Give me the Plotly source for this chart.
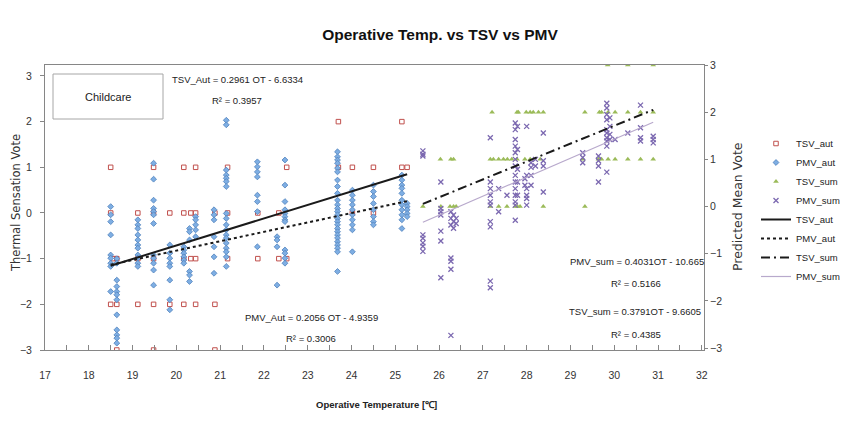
import plotly.graph_objects as go

# ---------------- data ----------------
tsv_aut_x = [23.70, 25.15,
             18.50, 19.48, 20.17, 20.44, 21.17, 22.52, 23.70, 24.02, 24.50, 25.15, 25.27,
             18.50, 19.12, 19.48, 19.85, 20.17, 20.33, 20.44, 20.88, 21.17, 21.86, 22.34, 24.02, 24.50,
             18.57, 18.64, 19.12, 19.48, 20.17, 20.33, 20.44, 21.17, 21.86, 22.34, 22.52,
             18.50, 18.64, 19.12, 19.48, 19.85, 20.17, 20.44, 20.88,
             18.64, 19.48, 20.88]
tsv_aut_y = [2, 2,
             1, 1, 1, 1, 1, 1, 1, 1, 1, 1, 1,
             0, 0, 0, 0, 0, 0, 0, 0, 0, 0, 0, 0, 0,
             -1, -1, -1, -1, -1, -1, -1, -1, -1, -1, -1,
             -2, -2, -2, -2, -2, -2, -2, -2,
             -3, -3, -3]

pmv_aut_x = ([18.50] * 9 + [18.64] * 12 + [19.12] * 11 + [19.48] * 12 + [19.85] * 8 +
             [20.17] * 6 + [20.30] * 6 + [20.44] * 5 + [20.86] * 7 + [21.14] * 18 +
             [21.85] * 8 + [22.30] * 4 + [22.48] * 12 + [23.68] * 26 + [24.02] * 10 +
             [24.50] * 8 + [25.15] * 11 + [25.27] * 5)
pmv_aut_y = [0.14, -0.04, -0.19, -0.48, -0.92, -0.99, -1.10, -1.17, -1.72,
             -1.00, -1.10, -1.47, -1.61, -1.72, -1.79, -1.90, -2.23, -2.56, -2.67, -2.74, -2.85,
             -0.15, -0.26, -0.34, -0.48, -0.59, -0.70, -0.77, -0.92, -0.99, -1.10, -1.17,
             1.09, 0.74, 0.28, 0.10, 0.03, -0.04, -0.23, -0.92, -0.99, -1.10, -1.25, -1.58,
             -0.70, -0.88, -0.99, -1.10, -1.17, -1.47, -1.90, -2.12,
             -0.74, -0.81, -0.88, -0.96, -1.03, -1.10,
             -0.34, -0.41, -0.59, -1.28, -1.36, -1.50,
             -0.08, -0.15, -0.26, -0.37, -0.52,
             0.07, -0.04, -0.15, -0.52, -0.74, -0.96, -1.32,
             2.03, 1.93, 0.94, 0.83, 0.76, 0.69, 0.58, -0.01, -0.12, -0.26, -0.37, -0.48, -0.55,
             -0.66, -0.77, -0.85, -0.96, -1.17,
             1.12, 1.01, 0.90, 0.79, 0.39, 0.25, 0.03, -0.74,
             -0.52, -0.59, -0.74, -1.58,
             1.16, 0.61, 0.25, 0.07, -0.01, -0.08, -0.15, -0.19, -0.81, -0.88, -0.99, -1.10,
             1.34, 1.23, 1.16, 1.09, 0.98, 0.90, 0.72, 0.58, 0.43, 0.28, 0.18, 0.10, 0.03,
             -0.04, -0.12, -0.19, -0.26, -0.34, -0.41, -0.48, -0.55, -0.63, -0.70, -0.77, -0.85, -1.28,
             0.50, 0.39, 0.28, 0.18, 0.07, -0.04, -0.15, -0.26, -0.37, -0.85,
             0.61, 0.47, 0.36, 0.21, 0.07, -0.08, -0.19, -0.26,
             0.83, 0.72, 0.61, 0.54, 0.43, 0.28, 0.18, 0.07, -0.04, -0.15, -0.34,
             0.21, 0.14, 0.07, -0.01, -0.08]

tsv_sum_x = [29.85, 30.31, 30.89,
             27.21, 27.78, 27.81, 27.99, 28.08, 28.15, 28.27, 28.38, 29.33, 29.66, 29.71, 29.86,
             30.02, 30.31, 30.60, 30.89,
             26.03, 26.27, 26.33, 27.17, 27.24, 27.36, 27.47, 27.56, 27.66, 27.78, 27.96, 28.08,
             28.31, 29.28, 29.64, 29.71, 29.86, 30.02, 30.31, 30.60, 30.89,
             25.63, 26.04, 26.25, 26.33, 26.39, 27.17, 27.36, 27.55, 27.74, 27.79, 27.85, 28.38, 29.33]
tsv_sum_y = [3] * 3 + [2] * 16 + [1] * 21 + [0] * 13

pmv_sum_x = ([25.63] * 8 + [26.04] * 7 + [26.27] * 7 + [26.33] * 3 + [26.39] * 2 +
             [27.17] * 10 + [27.36] * 2 + [27.55] * 1 + [27.74] * 14 + [27.79] * 5 +
             [28.00] * 6 + [27.96] * 2 + [28.10] * 4 + [28.20] * 2 + [28.38] * 4 +
             [29.28] * 3 + [29.64] * 4 + [29.83] * 10 + [29.90] * 4 + [30.02] * 1 +
             [30.31] * 1 + [30.60] * 4 + [30.89] * 3)
pmv_sum_y = [1.18, 1.11, 1.07, -0.60, -0.67, -0.77, -0.84, -0.95,
             0.52, -0.04, -0.11, -0.18, -0.52, -0.73, -1.51,
             -0.11, -0.25, -0.39, -1.09, -1.16, -1.33, -2.73,
             -0.18, -0.32, -0.46,
             -0.25, -0.36,
             1.46, 0.52, 0.38, 0.24, 0.10, 0.03, -0.32, -0.43, -1.58, -1.72,
             0.38, -0.11,
             0.24,
             1.77, 1.63, 1.42, 1.28, 1.14, 1.00, 0.86, 0.66, 0.52, 0.38, 0.24, 0.10, 0.03, -0.29,
             1.70, 1.21, 0.79, 0.52, 0.24,
             1.70, 0.66, 0.38, 0.24, 0.17, 0.03,
             0.59, 0.45,
             0.93, 0.83, 0.66, 0.45,
             1.00, 0.86,
             1.56, 0.97, 0.86, 0.31,
             1.14, 1.04, 0.93,
             1.07, 0.97, 0.86, 0.52,
             2.19, 2.09, 1.95, 1.84, 1.63, 1.56, 1.46, 1.39, 1.28, 0.73,
             1.88, 1.70, 1.53, 1.42,
             1.42,
             1.56,
             2.15, 1.67, 1.46, 1.39,
             1.49, 1.42, 1.35]

# trend line coefficients (slope, intercept, R^2)
tsv_aut_fit = [0.2961, -6.6334, 0.3957]
pmv_aut_fit = [0.2056, -4.9359, 0.3006]
tsv_sum_fit = [0.3791, -9.6605, 0.4385]
pmv_sum_fit = [0.4031, -10.665, 0.5166]

x_ticks = list(range(17, 33))
y_ticks = [-3, -2, -1, 0, 1, 2, 3]

# ---------------- figure ----------------
FONT = "Liberation Sans, Arial, sans-serif"
AXC = "#868686"
OFF = 8  # page body margin of the html output

# plot area in page pixels
PL, PR, PT, PB = 45, 704, 65, 350
PW, PH = PR - PL, PB - PT


def px(x):
    return (x - PL) / PW


def py(y):
    return (PB - y) / PH


def fit_line(xs, fit):
    x0, x1 = min(xs), max(xs)
    return [x0, x1], [fit[0] * x0 + fit[1], fit[0] * x1 + fit[1]]


fig = go.Figure()
fig.add_trace(go.Scatter(x=tsv_aut_x, y=tsv_aut_y, mode="markers", name="TSV_aut",
                         legendgroup="a",
                         marker=dict(symbol="square-open", size=4.5, color="#c0504d",
                                     line=dict(width=1, color="#c0504d"))))
fig.add_trace(go.Scatter(x=pmv_aut_x, y=pmv_aut_y, mode="markers", name="PMV_aut",
                         legendgroup="b",
                         marker=dict(symbol="diamond", size=4.5, color="#7eaee3",
                                     line=dict(width=0.8, color="#4f81bd"))))
fig.add_trace(go.Scatter(x=tsv_sum_x, y=tsv_sum_y, mode="markers", name="TSV_sum",
                         legendgroup="c", yaxis="y2",
                         marker=dict(symbol="triangle-up", size=5, color="#9bbb59",
                                     line=dict(width=0))))
fig.add_trace(go.Scatter(x=pmv_sum_x, y=pmv_sum_y, mode="markers", name="PMV_sum",
                         legendgroup="d", yaxis="y2",
                         marker=dict(symbol="x-thin", size=5, color="#7b68b0",
                                     line=dict(width=1.3, color="#7b68b0"))))

lx, ly = fit_line(tsv_aut_x, tsv_aut_fit)
fig.add_trace(go.Scatter(x=lx, y=ly, mode="lines", name="TSV_aut", legendgroup="e",
                         line=dict(color="#1a1a1a", width=2)))
lx, ly = fit_line(pmv_aut_x, pmv_aut_fit)
fig.add_trace(go.Scatter(x=lx, y=ly, mode="lines", name="PMV_aut", legendgroup="f",
                         line=dict(color="#1a1a1a", width=2, dash="3px,3px")))
lx, ly = fit_line(tsv_sum_x, tsv_sum_fit)
fig.add_trace(go.Scatter(x=lx, y=ly, mode="lines", name="TSV_sum", legendgroup="g",
                         yaxis="y2",
                         line=dict(color="#1a1a1a", width=2, dash="9px,4px,2px,4px")))
lx, ly = fit_line(pmv_sum_x, pmv_sum_fit)
fig.add_trace(go.Scatter(x=lx, y=ly, mode="lines", name="PMV_sum", legendgroup="h",
                         yaxis="y2",
                         line=dict(color="#b8a9cc", width=1.2)))

ann_font = dict(family=FONT, size=9.5, color="#222222")

annotations = [
    dict(text="TSV_Aut = %.4f OT - %.4f" % (tsv_aut_fit[0], -tsv_aut_fit[1]),
         x=px(237), y=py(79)),
    dict(text="R\u00b2 = %.4f" % tsv_aut_fit[2], x=px(237), y=py(101)),
    dict(text="PMV_Aut = %.4f OT - %.4f" % (pmv_aut_fit[0], -pmv_aut_fit[1]),
         x=px(311), y=py(317)),
    dict(text="R\u00b2 = %.4f" % pmv_aut_fit[2], x=px(311), y=py(338)),
    dict(text="PMV_sum = %.4fOT - %.3f" % (pmv_sum_fit[0], -pmv_sum_fit[1]),
         x=px(637), y=py(262)),
    dict(text="R\u00b2 = %.4f" % pmv_sum_fit[2], x=px(636), y=py(283)),
    dict(text="TSV_sum = %.4fOT - %.4f" % (tsv_sum_fit[0], -tsv_sum_fit[1]),
         x=px(635), y=py(311)),
    dict(text="R\u00b2 = %.4f" % tsv_sum_fit[2], x=px(636), y=py(334)),
    dict(text="Childcare", x=px(108), y=py(97),
         font=dict(family=FONT, size=11, color="#222222")),
    dict(text="Thermal Sensation Vote", x=px(16), y=py(203), textangle=-90,
         font=dict(family="DejaVu Sans", size=11.5, color="#333333")),
    dict(text="Predicted Mean Vote", x=px(737), y=py(207), textangle=-90,
         font=dict(family="DejaVu Sans", size=12.5, color="#333333")),
    dict(text="<b>Operative Temperature [\u2103]</b>", x=px(376), y=py(404),
         font=dict(family=FONT, size=9.5, color="#222222")),
]
for a in annotations:
    a.setdefault("font", ann_font)
    a.update(xref="paper", yref="paper", showarrow=False,
             xanchor="center", yanchor="middle")

# figure sized to fit inside the page's 8px body margin without scrollbars
W, H = 853 - 2 * OFF, 426 - 2 * OFF
fig.update_layout(
    width=W, height=H,
    margin=dict(l=PL - OFF, r=W - (PR - OFF), t=PT - OFF, b=H - (PB - OFF), pad=0,
                autoexpand=False),
    paper_bgcolor="white", plot_bgcolor="white",
    title=dict(text="<b>Operative Temp. vs TSV vs PMV</b>", x=(440 - OFF) / W,
               xanchor="center", y=1 - (35 - OFF) / H, yanchor="middle",
               font=dict(family=FONT, size=15.5, color="#111111")),
    font=dict(family=FONT, size=10, color="#333333"),
    showlegend=True,
    legend=dict(x=px(756), xanchor="left", y=py(129), yanchor="top",
                traceorder="grouped", tracegroupgap=0,
                font=dict(family=FONT, size=9.5, color="#222222"),
                bgcolor="rgba(0,0,0,0)", itemwidth=30),
    xaxis=dict(range=[17, 32.05], tickvals=x_ticks, ticks="inside", ticklen=5,
               tickcolor=AXC, showline=True, linecolor=AXC, linewidth=1, mirror=True,
               showgrid=False, zeroline=False, ticklabelstandoff=15, automargin=False,
               minor=dict(dtick=0.5, ticks="inside", ticklen=5, tickcolor=AXC),
               tickfont=dict(family=FONT, size=10.5, color="#333333")),
    yaxis=dict(range=[-3, 3.24], tickvals=y_ticks, ticks="outside", ticklen=4,
               tickcolor=AXC, showline=True, linecolor=AXC, linewidth=1, mirror=True,
               showgrid=False, zeroline=False, ticklabelstandoff=6, automargin=False,
               tickfont=dict(family=FONT, size=10.5, color="#333333")),
    yaxis2=dict(range=[-3.04, 3], tickvals=y_ticks, overlaying="y", side="right",
                ticks="outside", ticklen=3, tickcolor=AXC, showline=True, linecolor=AXC,
                linewidth=1, showgrid=False, zeroline=False, ticklabelstandoff=0,
                automargin=False,
                tickfont=dict(family=FONT, size=10.5, color="#333333")),
    annotations=annotations,
    shapes=[dict(type="rect", xref="paper", yref="paper",
                 x0=px(53), x1=px(163), y0=py(119), y1=py(74),
                 line=dict(color="#a6a6a6", width=1), fillcolor="white", layer="below")],
)

fig.write_html("out.html")
